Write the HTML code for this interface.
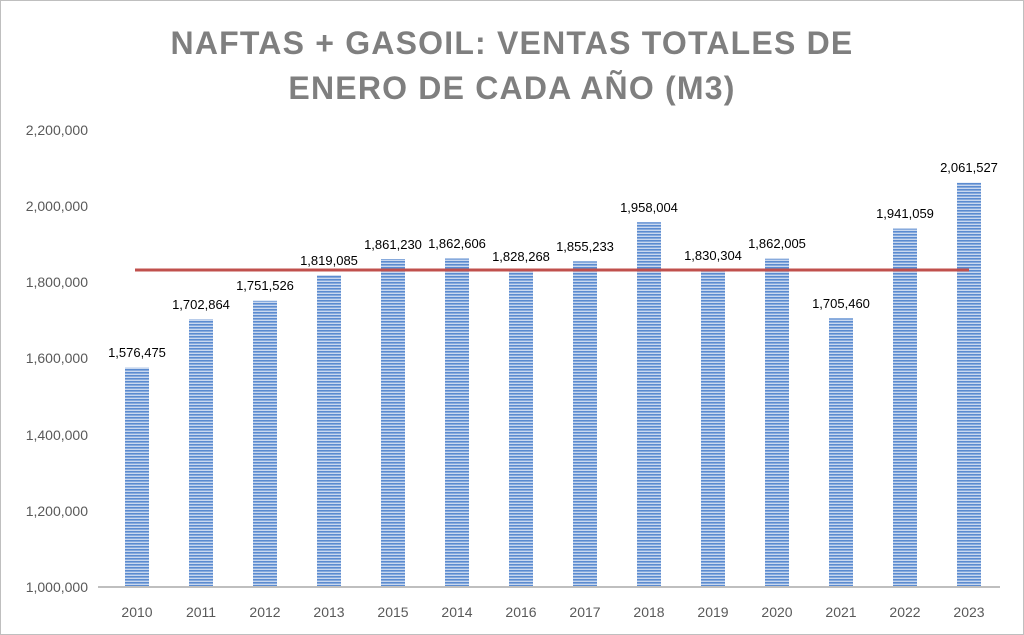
<!DOCTYPE html>
<html><head><meta charset="utf-8"><style>
body{margin:0;background:#fff;}
svg{display:block;font-family:"Liberation Sans",sans-serif;}
</style></head><body>
<svg width="1024" height="635" viewBox="0 0 1024 635" xmlns="http://www.w3.org/2000/svg">
<defs>
<pattern id="st" width="4" height="3" patternUnits="userSpaceOnUse">
<rect width="4" height="3" fill="#c9d8ef"/>
<rect width="4" height="1.6" fill="#5b8bd0"/>
</pattern>
</defs>
<rect x="0.5" y="0.5" width="1023" height="634" fill="#fff" stroke="#bfbfbf"/>
<g fill="#7f7f7f" font-weight="bold" font-size="32" text-anchor="middle" letter-spacing="1.2">
<text x="512" y="54">NAFTAS + GASOIL: VENTAS TOTALES DE</text>
<text x="512" y="99">ENERO DE CADA AÑO (M3)</text>
</g>
<g fill="#595959" font-size="14" text-anchor="end">
<text x="88" y="592">1,000,000</text>
<text x="88" y="516">1,200,000</text>
<text x="88" y="440">1,400,000</text>
<text x="88" y="363">1,600,000</text>
<text x="88" y="287">1,800,000</text>
<text x="88" y="211">2,000,000</text>
<text x="88" y="135">2,200,000</text>
</g>
<g id="bars" fill="url(#st)">
<rect x="125" y="367.5" width="24" height="219.5"/>
<rect x="189" y="319.3" width="24" height="267.7"/>
<rect x="253" y="300.8" width="24" height="286.2"/>
<rect x="317" y="275.1" width="24" height="311.9"/>
<rect x="381" y="259" width="24" height="328"/>
<rect x="445" y="258.5" width="24" height="328.5"/>
<rect x="509" y="271.6" width="24" height="315.4"/>
<rect x="573" y="261.3" width="24" height="325.7"/>
<rect x="637" y="222.2" width="24" height="364.8"/>
<rect x="701" y="270.8" width="24" height="316.2"/>
<rect x="765" y="258.7" width="24" height="328.3"/>
<rect x="829" y="318.3" width="24" height="268.7"/>
<rect x="893" y="228.6" width="24" height="358.4"/>
<rect x="957" y="182.7" width="24" height="404.3"/>
</g>
<line x1="98" y1="587" x2="1000" y2="587" stroke="#bfbfbf" stroke-width="2"/>
<line x1="135" y1="270" x2="969" y2="270" stroke="#c0504d" stroke-width="3"/>
<g fill="#000" font-size="13" text-anchor="middle">
<text x="137" y="357">1,576,475</text>
<text x="201" y="309">1,702,864</text>
<text x="265" y="290">1,751,526</text>
<text x="329" y="265">1,819,085</text>
<text x="393" y="249">1,861,230</text>
<text x="457" y="248">1,862,606</text>
<text x="521" y="261">1,828,268</text>
<text x="585" y="251">1,855,233</text>
<text x="649" y="212">1,958,004</text>
<text x="713" y="260">1,830,304</text>
<text x="777" y="248">1,862,005</text>
<text x="841" y="308">1,705,460</text>
<text x="905" y="218">1,941,059</text>
<text x="969" y="172">2,061,527</text>
</g>
<g fill="#595959" font-size="14" text-anchor="middle">
<text x="137" y="617">2010</text><text x="201" y="617">2011</text><text x="265" y="617">2012</text>
<text x="329" y="617">2013</text><text x="393" y="617">2015</text><text x="457" y="617">2014</text>
<text x="521" y="617">2016</text><text x="585" y="617">2017</text><text x="649" y="617">2018</text>
<text x="713" y="617">2019</text><text x="777" y="617">2020</text><text x="841" y="617">2021</text>
<text x="905" y="617">2022</text><text x="969" y="617">2023</text>
</g>
</svg>
</body></html>
